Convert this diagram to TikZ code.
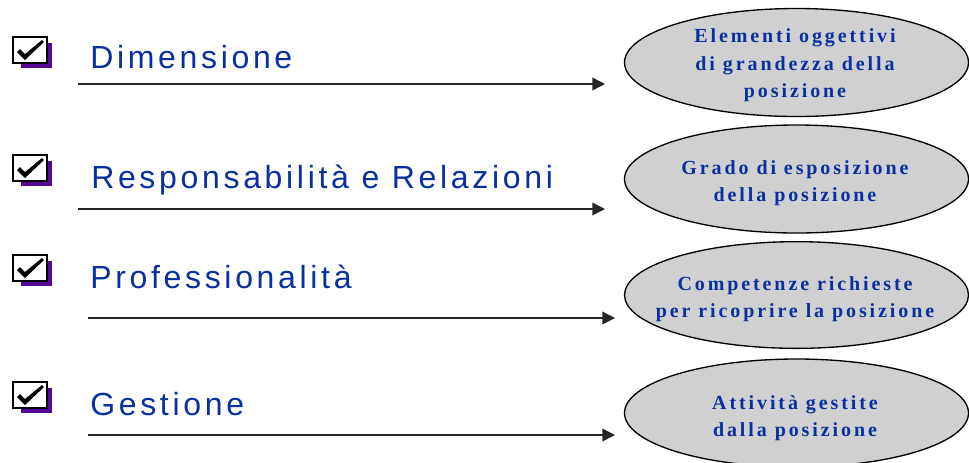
\documentclass[tikz,border=0pt]{standalone}
\usepackage{fontspec}
\setmainfont{Liberation Serif}
\newfontfamily\labfont[LetterSpace=11.5]{Liberation Sans}
\newfontfamily\ellfont[LetterSpace=14.5]{Liberation Serif}
\usetikzlibrary{shapes.geometric,arrows.meta}
\definecolor{txtblue}{RGB}{8,48,160}
\definecolor{ellgray}{RGB}{208,208,208}
\definecolor{shadowpurple}{RGB}{88,8,150}
\tikzset{
  lab/.style={anchor=base west,inner sep=0pt,text=txtblue,font=\labfont\fontsize{24}{28}\selectfont},
  ell/.style={ellipse,draw=black,line width=1pt,fill=ellgray,minimum width=258pt,minimum height=80pt,inner sep=0pt},
  elltxt/.style={inner sep=0pt,align=center,text=txtblue,font=\ellfont\bfseries\fontsize{15}{20.5}\selectfont},
  conn/.style={line width=1.1pt,draw=black!85,-{Triangle[length=9.5pt,width=9.5pt]}},
  chk/.pic={
    \fill[shadowpurple] (8,6) rectangle (39,31);
    \draw[fill=white,line width=1.5pt] (0,0) rectangle (34,26);
    \fill[black] (4,15) -- (7,12) -- (12,17) -- (29,3) -- (31,5) -- (12,23) -- cycle;
  }
}
\begin{document}
\begin{tikzpicture}[x=0.75pt,y=-0.75pt]
\useasboundingbox (0,0) rectangle (969,462);
% checkboxes
\pic at (13,37) {chk};
\pic at (13,155) {chk};
\pic at (13,255) {chk};
\pic at (13,382) {chk};
% labels
\node[lab] (l1) at (90,68) {Dimensione};
\node[lab] (l2) at (91,188) {Responsabilità e Relazioni};
\node[lab] (l3) at (90,288) {Professionalità};
\node[lab] (l4) at (90,415) {Gestione};
% ellipses
\node[ell,minimum height=81pt] (e1) at (796.5,62.5) {};
\node[ell,minimum height=81pt] (e2) at (796.5,179) {};
\node[ell,minimum height=80pt] (e3) at (796.5,295) {};
\node[ell,minimum height=81pt] (e4) at (796.5,413) {};
\node[elltxt] (t1x) at (795,65.5) {Elementi oggettivi\\di grandezza della\\posizione};
\node[elltxt] (t2x) at (795,183) {Grado di esposizione\\della posizione};
\node[elltxt] (t3x) at (795,299) {Competenze richieste\\per ricoprire la posizione};
\node[elltxt] (t4x) at (795,418) {Attività gestite\\dalla posizione};
% connectors
\coordinate (s1) at (78,84);  \coordinate (t1) at (605,84);
\coordinate (s2) at (78,209); \coordinate (t2) at (605,209);
\coordinate (s3) at (88,318); \coordinate (t3) at (615,318);
\coordinate (s4) at (88,435); \coordinate (t4) at (615,435);
\draw[conn] (s1) -- (t1);
\draw[conn] (s2) -- (t2);
\draw[conn] (s3) -- (t3);
\draw[conn] (s4) -- (t4);
\end{tikzpicture}
\end{document}
